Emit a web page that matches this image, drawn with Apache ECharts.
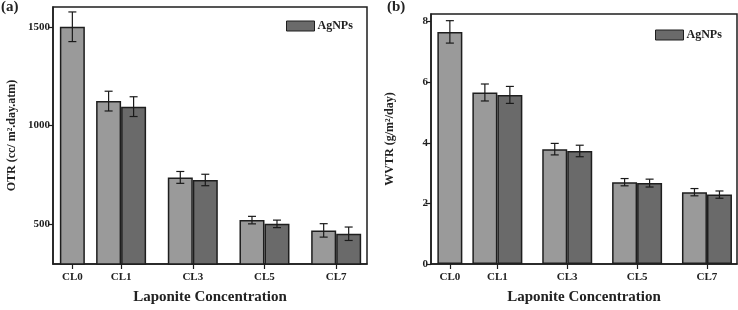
<!DOCTYPE html>
<html><head><meta charset="utf-8">
<script src="https://cdn.jsdelivr.net/npm/echarts@6/dist/echarts.min.js"></script>
<style>html,body{margin:0;padding:0;background:#fff}#c{width:738px;height:310px}</style>
</head><body><div id="c"></div>
<script>
// ---- data ----
const categories = ['CL0', 'CL1', 'CL3', 'CL5', 'CL7'];
const catPos = [0.32, 1, 2, 3, 4];
const otrControl = [1500, 1124, 738, 522, 470];
const otrControlErr = [75, 50, 30, 19, 34];
const otrAg = [null, 1096, 725, 503, 453];
const otrAgErr = [null, 50, 29, 19, 34];
const wvtrControl = [7.66, 5.66, 3.79, 2.70, 2.37];
const wvtrControlErr = [0.37, 0.28, 0.19, 0.12, 0.12];
const wvtrAg = [null, 5.58, 3.73, 2.67, 2.29];
const wvtrAgErr = [null, 0.28, 0.19, 0.13, 0.12];
const otrTicks = [500, 1000, 1500];
const wvtrTicks = [0, 2, 4, 6, 8];

// ---- styling ----
const FONT = '"Liberation Serif", "Times New Roman", serif';
const LIGHT = '#9a9a9a';
const DARK = '#6a6a6a';
const EDGE = '#1e1e1e';
const BW = 25;

const chart = echarts.init(document.getElementById('c'));

function xAxes(g) {
  const common = {
    type: 'value', gridIndex: g, min: 0.05, max: 4.43,
    splitLine: { show: false }
  };
  return [
    Object.assign({}, common, {
      axisLine: { show: true, lineStyle: { color: EDGE, width: 1.5 } },
      axisTick: { show: true, customValues: catPos, length: 5, lineStyle: { color: EDGE, width: 1.2 } },
      axisLabel: {
        show: true, customValues: catPos, margin: 8,
        formatter: v => { const i = catPos.indexOf(v); return i >= 0 ? categories[i] : ''; },
        fontFamily: FONT, fontWeight: 'bold', fontSize: 11, color: '#222'
      },
      name: 'Laponite Concentration', nameLocation: 'middle', nameGap: 26,
      nameTextStyle: { fontFamily: FONT, fontWeight: 'bold', fontSize: 15, color: '#222' }
    }),
    Object.assign({}, common, { show: false })
  ];
}

function yAxis(g, min, max, ticks, name) {
  return {
    type: 'value', gridIndex: g, min: min, max: max,
    splitLine: { show: false },
    axisLine: { show: true, lineStyle: { color: EDGE, width: 1.5 } },
    axisTick: { show: true, customValues: ticks, length: 5, lineStyle: { color: EDGE, width: 1.2 } },
    axisLabel: {
      customValues: ticks, margin: 3,
      formatter: v => String(v),
      fontFamily: FONT, fontWeight: 'bold', fontSize: 11, color: '#222'
    },
    name: name, nameLocation: 'middle', nameRotate: 90, nameGap: 35,
    nameTextStyle: { fontFamily: FONT, fontWeight: 'bold', fontSize: 12, color: '#222' }
  };
}

function errSeries(g, ctrl, ctrlErr, ag, agErr) {
  const data = [];
  for (let i = 0; i < categories.length; i++) {
    const single = ag[i] == null;
    if (ctrl[i] != null) data.push([catPos[i], ctrl[i] - ctrlErr[i], ctrl[i] + ctrlErr[i], single ? 0 : -1]);
    if (ag[i] != null) data.push([catPos[i], ag[i] - agErr[i], ag[i] + agErr[i], 1]);
  }
  return {
    type: 'custom', xAxisIndex: 2 * g, yAxisIndex: g, z: 5, silent: true,
    encode: { x: 0, y: [1, 2] },
    data: data,
    renderItem: function (params, api) {
      const x = api.value(0);
      const pHi = api.coord([x, api.value(2)]);
      const pLo = api.coord([x, api.value(1)]);
      const cx = pHi[0] + api.value(3) * BW / 2;
      const hw = 4;
      const st = { stroke: '#1a1a1a', lineWidth: 1.2 };
      return {
        type: 'group',
        children: [
          { type: 'line', shape: { x1: cx, y1: pHi[1], x2: cx, y2: pLo[1] }, style: st },
          { type: 'line', shape: { x1: cx - hw, y1: pHi[1], x2: cx + hw, y2: pHi[1] }, style: st },
          { type: 'line', shape: { x1: cx - hw, y1: pLo[1], x2: cx + hw, y2: pLo[1] }, style: st }
        ]
      };
    }
  };
}

function barSeries(g, ctrl, ag) {
  const itemBase = { borderColor: EDGE, borderWidth: 1.5 };
  return [
    {
      type: 'bar', name: 'Control', xAxisIndex: 2 * g + 1, yAxisIndex: g,
      barWidth: BW, itemStyle: Object.assign({ color: LIGHT }, itemBase),
      data: ctrl.map((v, i) => (ag[i] == null ? [catPos[i], v] : null)).filter(d => d)
    },
    {
      type: 'bar', name: 'Control', xAxisIndex: 2 * g, yAxisIndex: g,
      barWidth: BW, barGap: '0%', itemStyle: Object.assign({ color: LIGHT }, itemBase),
      data: ctrl.map((v, i) => (ag[i] != null ? [catPos[i], v] : null)).filter(d => d)
    },
    {
      type: 'bar', name: 'AgNPs', xAxisIndex: 2 * g, yAxisIndex: g,
      barWidth: BW, barGap: '0%', itemStyle: Object.assign({ color: DARK }, itemBase),
      data: ag.map((v, i) => (v != null ? [catPos[i], v] : null)).filter(d => d)
    }
  ];
}

function legend(left, top) {
  return {
    data: ['AgNPs'], left: left, top: top, icon: 'rect',
    itemWidth: 28, itemHeight: 10, itemGap: 4, padding: 0,
    itemStyle: { color: DARK, borderColor: EDGE, borderWidth: 1 },
    textStyle: { fontFamily: FONT, fontWeight: 'bold', fontSize: 12, color: '#222', padding: [0, 0, 0, -2] },
    selectedMode: false
  };
}

chart.setOption({
  animation: false,
  backgroundColor: '#fff',
  grid: [
    { left: 53, top: 7, width: 314, height: 261, show: true, borderColor: EDGE, borderWidth: 1.5 },
    { left: 431, top: 14, width: 306, height: 254, show: true, borderColor: EDGE, borderWidth: 1.5 }
  ],
  xAxis: xAxes(0).concat(xAxes(1)),
  yAxis: [
    yAxis(0, 300, 1600, otrTicks, 'OTR (cc/ m².day.atm)'),
    yAxis(1, 0, 8.25, wvtrTicks, 'WVTR (g/m²/day)')
  ],
  legend: [legend(286, 20), legend(655, 29)],
  graphic: [
    { type: 'text', left: 1, top: 0, style: { text: '(a)', font: 'bold 15px "Liberation Serif"', fill: '#222' } },
    { type: 'text', left: 387, top: 0, style: { text: '(b)', font: 'bold 15px "Liberation Serif"', fill: '#222' } }
  ],
  series: barSeries(0, otrControl, otrAg)
    .concat([errSeries(0, otrControl, otrControlErr, otrAg, otrAgErr)])
    .concat(barSeries(1, wvtrControl, wvtrAg))
    .concat([errSeries(1, wvtrControl, wvtrControlErr, wvtrAg, wvtrAgErr)])
});
</script>
</body></html>
